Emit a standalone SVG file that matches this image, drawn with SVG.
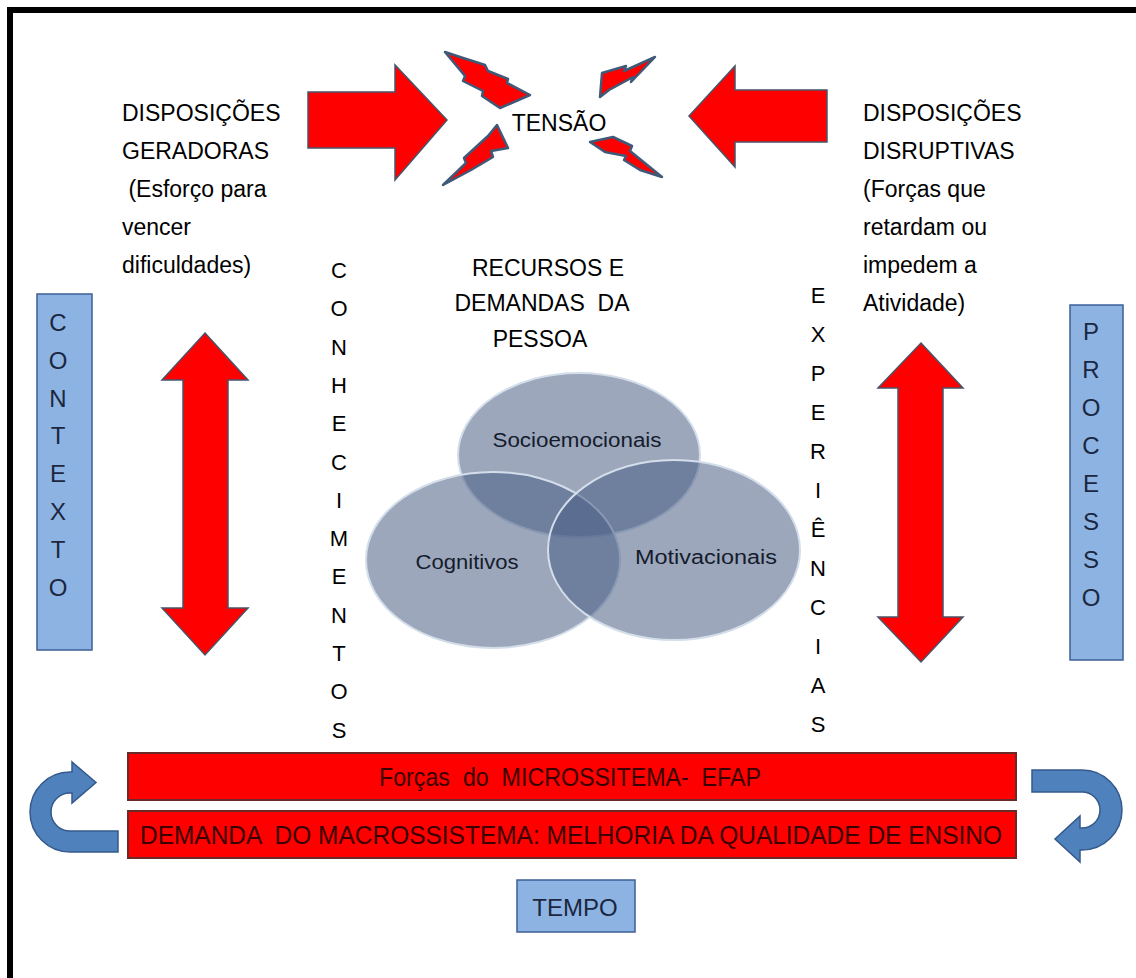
<svg xmlns="http://www.w3.org/2000/svg" width="1136" height="978" viewBox="0 0 1136 978">
<style>
text{font-family:"Liberation Sans",Arial,sans-serif;fill:#000}
.side{font-size:23px}
.vert{font-size:22px;text-anchor:middle}
.boxt{font-size:24px;text-anchor:middle;fill:#1b2740}
.red{fill:#ff0000;stroke:#4a5468;stroke-width:1.5}
.bolt{fill:#ff0000;stroke:#3f5a78;stroke-width:2.5;stroke-linejoin:round}
.blue{fill:#8db3e2;stroke:#3d5f96;stroke-width:1.5}
.curve{fill:#4f81bd;stroke:#35598a;stroke-width:1.5}
.bar{fill:#ff0000;stroke:#6b2a2a;stroke-width:2}
.bart{font-size:25px;text-anchor:middle;fill:#3a0000}
.venn{fill:#4a5f85;fill-opacity:0.55;stroke:#d4deea;stroke-width:2}
.vt{font-size:20px;text-anchor:middle;fill:#141c2c}
</style>
<rect x="0" y="0" width="1136" height="978" fill="#fff"/>
<path d="M10,978 L10,10 L1136,10" fill="none" stroke="#000" stroke-width="6"/>

<g id="tensao">
<polygon class="red" points="308,92 395,92 395,65 447,120 395,180 395,148 308,148"/>
<polygon class="red" points="827,90 735,90 735,66 689,116 735,167 735,142 827,142"/>
<polygon class="bolt" points="445,52 460,57 485,65 488,71 508,79 507,83 530,95 500,108 482,96 483,91 463,81 465,76"/>
<polygon class="bolt" points="443,185 466,163 464,158 488,136 497,125 508,148 491,151 493,157 471,170"/>
<polygon class="bolt" points="600,97 602,73 626,66 624,71 655,57 631,82 633,77 609,90"/>
<polygon class="bolt" points="590,142 613,137 632,146 630,151 662,177 640,170 624,160 626,156 605,152"/>
<text x="559" y="131" style="font-size:23px;text-anchor:middle">TENSÃO</text>
</g>

<g id="geradoras">
<text class="side" x="122" y="121">DISPOSIÇÕES</text>
<text class="side" x="122" y="159">GERADORAS</text>
<text class="side" x="122" y="197" xml:space="preserve"> (Esforço para</text>
<text class="side" x="122" y="235">vencer</text>
<text class="side" x="122" y="273">dificuldades)</text>
</g>

<g id="disruptivas">
<text class="side" x="863" y="121">DISPOSIÇÕES</text>
<text class="side" x="863" y="159">DISRUPTIVAS</text>
<text class="side" x="863" y="197">(Forças que</text>
<text class="side" x="863" y="235">retardam ou</text>
<text class="side" x="863" y="273">impedem a</text>
<text class="side" x="863" y="311">Atividade)</text>
</g>

<g id="recursos">
<text x="548" y="276" style="font-size:23px;text-anchor:middle">RECURSOS E</text>
<text x="542" y="311" style="font-size:23px;text-anchor:middle" xml:space="preserve">DEMANDAS  DA</text>
<text x="540" y="347" style="font-size:23px;text-anchor:middle">PESSOA</text>
</g>

<g id="conhecimentos">
<text class="vert"><tspan x="339" y="278">C</tspan><tspan x="339" dy="38.3">O</tspan><tspan x="339" dy="38.3">N</tspan><tspan x="339" dy="38.3">H</tspan><tspan x="339" dy="38.3">E</tspan><tspan x="339" dy="38.3">C</tspan><tspan x="339" dy="38.3">I</tspan><tspan x="339" dy="38.3">M</tspan><tspan x="339" dy="38.3">E</tspan><tspan x="339" dy="38.3">N</tspan><tspan x="339" dy="38.3">T</tspan><tspan x="339" dy="38.3">O</tspan><tspan x="339" dy="38.3">S</tspan></text>
</g>

<g id="experiencias">
<text class="vert"><tspan x="818" y="303">E</tspan><tspan x="818" dy="39">X</tspan><tspan x="818" dy="39">P</tspan><tspan x="818" dy="39">E</tspan><tspan x="818" dy="39">R</tspan><tspan x="818" dy="39">I</tspan><tspan x="818" dy="39">Ê</tspan><tspan x="818" dy="39">N</tspan><tspan x="818" dy="39">C</tspan><tspan x="818" dy="39">I</tspan><tspan x="818" dy="39">A</tspan><tspan x="818" dy="39">S</tspan></text>
</g>

<g id="contexto">
<rect class="blue" x="37" y="294" width="55" height="356"/>
<text class="boxt"><tspan x="58" y="331">C</tspan><tspan x="58" dy="37.8">O</tspan><tspan x="58" dy="37.8">N</tspan><tspan x="58" dy="37.8">T</tspan><tspan x="58" dy="37.8">E</tspan><tspan x="58" dy="37.8">X</tspan><tspan x="58" dy="37.8">T</tspan><tspan x="58" dy="37.8">O</tspan></text>
</g>

<g id="processo">
<rect class="blue" x="1070" y="305" width="53" height="355"/>
<text class="boxt"><tspan x="1091" y="340">P</tspan><tspan x="1091" dy="38">R</tspan><tspan x="1091" dy="38">O</tspan><tspan x="1091" dy="38">C</tspan><tspan x="1091" dy="38">E</tspan><tspan x="1091" dy="38">S</tspan><tspan x="1091" dy="38">S</tspan><tspan x="1091" dy="38">O</tspan></text>
</g>

<g id="seta-esquerda">
<polygon class="red" points="205,333 248,380 228,380 228,608 248,608 205,655 162,608 183,608 183,380 162,380"/>
</g>
<g id="seta-direita">
<polygon class="red" points="921,343 963,388 943,388 943,617 963,617 921,662 878,617 898,617 898,388 878,388"/>
</g>

<g id="venn">
<ellipse class="venn" cx="579" cy="455" rx="121" ry="82"/>
<ellipse class="venn" cx="493" cy="560" rx="127" ry="88"/>
<ellipse class="venn" cx="674" cy="550" rx="126" ry="90"/>
<text class="vt" x="577" y="447" textLength="169" lengthAdjust="spacingAndGlyphs">Socioemocionais</text>
<text class="vt" x="467" y="569" textLength="103" lengthAdjust="spacingAndGlyphs">Cognitivos</text>
<text class="vt" x="706" y="564" textLength="142" lengthAdjust="spacingAndGlyphs">Motivacionais</text>
</g>

<g id="microssistema">
<rect class="bar" x="128" y="753" width="888" height="47"/>
<text class="bart" x="570" y="786" textLength="382" lengthAdjust="spacingAndGlyphs" xml:space="preserve">Forças  do  MICROSSITEMA-  EFAP</text>
</g>
<g id="macrossistema">
<rect class="bar" x="128" y="811" width="888" height="47"/>
<text class="bart" x="571" y="844" textLength="862" lengthAdjust="spacingAndGlyphs" xml:space="preserve">DEMANDA  DO MACROSSISTEMA: MELHORIA DA QUALIDADE DE ENSINO</text>
</g>

<g id="ciclo-esquerdo">
<path class="curve" d="M118,831 L70,831 A19,19 0 0 1 70,793 L72,793 L72,803 L96,782.5 L72,762 L72,772 L70,772 A40,40 0 0 0 70,852 L118,852 Z"/>
</g>
<g id="ciclo-direito">
<path class="curve" d="M1032,770 L1082,770 A40,40 0 0 1 1082,850 L1080,850 L1080,862 L1055,839 L1080,816 L1080,828 L1082,828 A18,18 0 0 0 1082,792 L1032,792 Z"/>
</g>

<g id="tempo">
<rect class="blue" x="517" y="880" width="118" height="52"/>
<text class="boxt" x="575" y="916">TEMPO</text>
</g>
</svg>
